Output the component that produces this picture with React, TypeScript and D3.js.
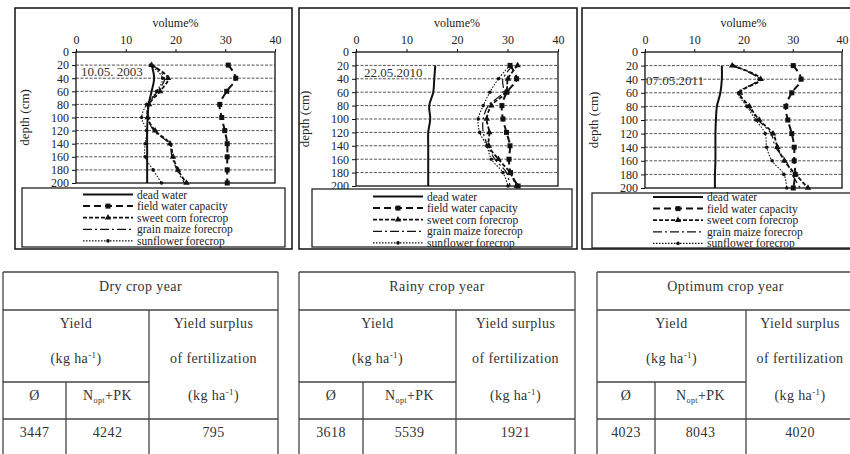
import React, { useEffect, useRef } from 'react';
import * as d3 from 'd3';

// depth steps (cm) and axis ticks
const depths = [20, 40, 60, 80, 100, 120, 140, 160, 180, 200];
const depthTicks = [0, 20, 40, 60, 80, 100, 120, 140, 160, 180, 200];
const volumeTicks = [0, 10, 20, 30, 40];

// 2003 (dry)
const deadWater2003 = [15.2, 15.7, 15.2, 14.6, 14.4, 14.3, 14.3, 14.3, 14.3, 14.3];
const fieldCap2003 = [30.6, 32.1, 30.3, 28.9, 29.3, 29.9, 30.4, 30.4, 30.4, 30.4];
const sweetCorn2003 = [15.2, 18.5, 16.9, 14.7, 14.4, 15.9, 18.9, 19.5, 20.5, 22.2];
const grainMaize2003 = [15.4, 17.8, 16.4, 14.6, 14.5, 15.6, 18.7, 19.3, 20.3, 21.8];
const sunflower2003 = [15.0, 17.4, 16.2, 14.2, 13.2, 14.2, 13.9, 13.9, 15.5, 17.2];

// 2010 (rainy)
const deadWater2010 = [15.7, 15.5, 15.3, 14.5, 14.7, 14.3, 14.3, 14.3, 14.3, 14.3];
const fieldCap2010 = [30.5, 31.8, 29.9, 28.9, 29.1, 29.8, 30.5, 30.3, 30.6, 32.1];
const sweetCorn2010 = [32.0, 30.1, 29.7, 26.8, 25.9, 26.4, 26.3, 28.2, 30.5, 31.8];
const grainMaize2010 = [31.1, 29.1, 29.1, 26.2, 25.2, 25.2, 26.1, 27.5, 29.8, 30.5];
const sunflower2010 = [30.5, 28.2, 26.5, 25.2, 24.2, 24.5, 25.9, 26.8, 29.1, 30.1];

// 2011 (optimum)
const deadWater2011 = [15.6, 15.6, 15.3, 14.6, 14.4, 14.3, 14.3, 14.3, 14.2, 14.2];
const fieldCap2011 = [30.1, 31.7, 29.8, 28.6, 29.0, 29.8, 30.3, 30.3, 30.5, 30.1];
const sweetCorn2011 = [17.7, 23.5, 19.3, 21.2, 23.2, 26.0, 26.9, 28.3, 30.6, 33.1];
const grainMaize2011 = [17.7, 23.0, 19.2, 21.0, 23.0, 25.6, 26.5, 28.6, 29.9, 31.5];
const sunflower2011 = [17.9, 23.2, 19.0, 20.7, 22.5, 24.4, 24.7, 25.8, 28.2, 28.8];

const seriesNames = ['dead water', 'field water capacity', 'sweet corn forecrop', 'grain maize forecrop', 'sunflower forecrop'];
const dates = ['10.05. 2003', '22.05.2010', '07.05.2011'];

// yield tables
const tableTitles = ['Dry crop year', 'Rainy crop year', 'Optimum crop year'];
const yieldAvg = [3447, 3618, 4023];
const yieldNopt = [4242, 5539, 8043];
const yieldSurplus = [795, 1921, 4020];

const FONT = "'Liberation Serif', 'DejaVu Serif', serif";

// panel layout (pixels)
const panels = [
  { frame: [15, 8, 292, 249], plot: [76, 52, 275, 183], legend: [22, 188, 285, 247], rows: 194.5, dateX: 81, dateY: 71 },
  { frame: [299, 8, 577, 249], plot: [356, 52, 558, 186], legend: [312, 189, 572, 247], rows: 196.5, dateX: 364, dateY: 72 },
  { frame: [582, 8, 870, 249], plot: [645, 52, 842, 188], legend: [592, 193, 870, 248], rows: 197, dateX: 646, dateY: 80 },
];
const tables = [
  { x: [3, 66, 149, 278] },
  { x: [299, 363, 456, 575] },
  { x: [597, 655, 746, 854] },
];

const styles = [
  { dash: null, width: 2, marker: null },
  { dash: '7,4', width: 2, marker: 'square' },
  { dash: '4,2', width: 1.8, marker: 'triangle' },
  { dash: '9,3,2,3', width: 1.2, marker: null },
  { dash: '1.5,1.5', width: 1.1, marker: 'circle' },
];

const drawMarker = (g, type, x, y) => {
  if (type === 'square') {
    g.append('rect').attr('x', x - 2.5).attr('y', y - 2.5).attr('width', 5).attr('height', 5).attr('fill', '#111');
  } else if (type === 'triangle') {
    g.append('path').attr('d', d3.symbol(d3.symbolTriangle, 18)()).attr('transform', `translate(${x},${y})`).attr('fill', '#111');
  } else if (type === 'circle') {
    g.append('circle').attr('cx', x).attr('cy', y).attr('r', 1.8).attr('fill', '#111');
  }
};

const App = () => {
  const ref = useRef(null);

  useEffect(() => {
    const svg = d3.select(ref.current);
    svg.selectAll('*').remove();

    const allSeries = [
      [deadWater2003, fieldCap2003, sweetCorn2003, grainMaize2003, sunflower2003],
      [deadWater2010, fieldCap2010, sweetCorn2010, grainMaize2010, sunflower2010],
      [deadWater2011, fieldCap2011, sweetCorn2011, grainMaize2011, sunflower2011],
    ];

    panels.forEach((p, pi) => {
      const g = svg.append('g');
      const [fx0, fy0, fx1, fy1] = p.frame;
      g.append('rect').attr('x', fx0).attr('y', fy0).attr('width', fx1 - fx0).attr('height', fy1 - fy0)
        .attr('fill', 'white').attr('stroke', '#111').attr('stroke-width', 1.5);

      const [px0, py0, px1, py1] = p.plot;
      const x = d3.scaleLinear().domain([0, 40]).range([px0, px1]);
      const y = d3.scaleLinear().domain([0, 200]).range([py0, py1]);

      // gridlines
      g.selectAll('line.grid').data(depthTicks.slice(1, -1)).enter().append('line')
        .attr('x1', px0).attr('x2', px1).attr('y1', d => y(d)).attr('y2', d => y(d))
        .attr('stroke', '#555').attr('stroke-width', 1).attr('stroke-dasharray', '3,1.5');

      // plot border
      g.append('rect').attr('x', px0).attr('y', py0).attr('width', px1 - px0).attr('height', py1 - py0)
        .attr('fill', 'none').attr('stroke', '#111').attr('stroke-width', 1.3);

      // axes
      const xAxis = g.append('g').attr('transform', `translate(0,${py0})`)
        .call(d3.axisTop(x).tickValues(volumeTicks).tickSize(3).tickPadding(5));
      const yAxis = g.append('g').attr('transform', `translate(${px0},0)`)
        .call(d3.axisLeft(y).tickValues(depthTicks).tickSize(4).tickPadding(3));
      [xAxis, yAxis].forEach(a => {
        a.select('.domain').remove();
        a.attr('font-family', null).attr('font-size', null);
        a.selectAll('line').attr('stroke', '#111');
        a.selectAll('text').style('font-family', FONT).style('font-size', '12px').attr('fill', '#222');
      });

      g.append('text').attr('x', (px0 + px1) / 2).attr('y', 27).attr('text-anchor', 'middle')
        .style('font-family', FONT).style('font-size', '12px').attr('fill', '#222').text('volume%');
      g.append('text').attr('transform', `translate(${px0 - 47},${(py0 + py1) / 2}) rotate(-90)`)
        .attr('text-anchor', 'middle').style('font-family', FONT).style('font-size', '13px').attr('fill', '#222')
        .text('depth (cm)');

      g.append('text').attr('x', p.dateX).attr('y', p.dateY + 5).style('font-family', FONT).style('font-size', '13px')
        .attr('fill', '#333').text(dates[pi]);

      // series
      const line = d3.line().curve(d3.curveCatmullRom.alpha(0.5));
      allSeries[pi].forEach((vals, si) => {
        const st = styles[si];
        const pts = vals.map((v, k) => [x(v), y(depths[k])]);
        g.append('path').attr('d', line(pts)).attr('fill', 'none').attr('stroke', '#111')
          .attr('stroke-width', st.width).attr('stroke-dasharray', st.dash);
        if (st.marker) pts.forEach(([mx, my]) => drawMarker(g, st.marker, mx, my));
      });

      // legend
      const [lx0, ly0, lx1, ly1] = p.legend;
      g.append('rect').attr('x', lx0).attr('y', ly0).attr('width', lx1 - lx0).attr('height', ly1 - ly0)
        .attr('fill', 'white').attr('stroke', '#111').attr('stroke-width', 1.2);
      const sx = lx0 + 61;
      seriesNames.forEach((name, si) => {
        const st = styles[si];
        const ly = p.rows + si * 11.6;
        g.append('line').attr('x1', sx).attr('x2', sx + 50).attr('y1', ly).attr('y2', ly)
          .attr('stroke', '#111').attr('stroke-width', st.width).attr('stroke-dasharray', st.dash);
        if (st.marker) drawMarker(g, st.marker, sx + 25, ly);
        g.append('text').attr('x', sx + 54).attr('y', ly + 4).style('font-family', FONT)
          .style('font-size', '11.5px').attr('fill', '#222').text(name);
      });
    });

    // tables
    tables.forEach((t, ti) => {
      const g = svg.append('g');
      const [c0, c1, c2, c3] = t.x;
      const yTop = 272, yTitle = 310, ySub = 382, yVal = 419, yBot = 470;
      const ln = (x1, y1, x2, y2) => g.append('line').attr('x1', x1).attr('y1', y1).attr('x2', x2).attr('y2', y2)
        .attr('stroke', '#444').attr('stroke-width', 1.3);
      ln(c0, yTop, c3, yTop);
      ln(c0, yTitle, c3, yTitle);
      ln(c0, ySub, c2, ySub);
      ln(c0, yVal, c3, yVal);
      ln(c0, yTop, c0, yBot);
      ln(c3, yTop, c3, yBot);
      ln(c2, yTitle, c2, yBot);
      ln(c1, ySub, c1, yBot);

      const txt = (cx, cy) => g.append('text').attr('x', cx).attr('y', cy + 4.5).attr('text-anchor', 'middle')
        .style('font-family', FONT).style('font-size', '14px').attr('fill', '#333').attr('letter-spacing', 0.4);
      const kg = (cx, cy) => {
        const e = txt(cx, cy);
        e.append('tspan').text('(kg ha');
        e.append('tspan').attr('dy', -5).style('font-size', '9px').text('-1');
        e.append('tspan').attr('dy', 5).text(')');
      };
      txt((c0 + c3) / 2, 286).text(tableTitles[ti]);
      txt((c0 + c2) / 2, 323).text('Yield');
      kg((c0 + c2) / 2, 358);
      txt((c2 + c3) / 2, 323).text('Yield surplus');
      txt((c2 + c3) / 2, 358).text('of fertilization');
      kg((c2 + c3) / 2, 395);
      txt((c0 + c1) / 2, 395).text('Ø');
      const n = txt((c1 + c2) / 2, 395);
      n.append('tspan').text('N');
      n.append('tspan').attr('dy', 3).style('font-size', '8px').text('opt');
      n.append('tspan').attr('dy', -3).text('+PK');
      txt((c0 + c1) / 2, 432).text(yieldAvg[ti]);
      txt((c1 + c2) / 2, 432).text(yieldNopt[ti]);
      txt((c2 + c3) / 2, 432).text(yieldSurplus[ti]);
    });
  }, []);

  return (
    <svg ref={ref} width={850} height={454}
      style={{ position: 'absolute', left: 0, top: 0, background: 'white' }} />
  );
};

export default App;
